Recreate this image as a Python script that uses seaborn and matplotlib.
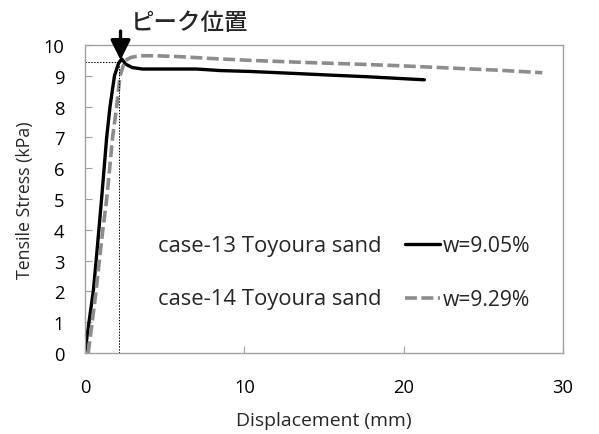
import matplotlib
matplotlib.use("Agg")
import matplotlib.pyplot as plt
import seaborn as sns
import pandas as pd

# ---- data ----
black_x = [0, 0.25, 0.52, 0.7, 0.87, 1.04, 1.2, 1.36, 1.57, 1.85, 2.1, 2.3, 2.55, 2.95, 3.6, 5.0, 7.0, 8.5, 10.4, 13.0, 15.5, 17.7, 19.5, 21.3]
black_y = [0.05, 1, 2, 3, 4, 5, 6, 7, 8, 9, 9.4, 9.55, 9.38, 9.27, 9.22, 9.22, 9.22, 9.17, 9.14, 9.08, 9.02, 8.97, 8.92, 8.87]
gray_x = [0.2, 0.45, 0.69, 0.9, 1.12, 1.36, 1.55, 1.73, 1.99, 2.2, 2.5, 2.9, 3.5, 4.5, 6, 8, 10.4, 14, 17, 19.6, 23, 26, 28.7]
gray_y = [0, 1, 2, 3, 4, 5, 6, 7, 8, 9, 9.49, 9.6, 9.65, 9.65, 9.62, 9.56, 9.5, 9.43, 9.38, 9.33, 9.25, 9.18, 9.1]
case_labels = ["case-13 Toyoura sand", "case-14 Toyoura sand"]
series_labels = ["w=9.05%", "w=9.29%"]
peak_x = 2.13
peak_y = 9.46
peak_text = "ピーク位置"
x_ticks = [0, 10, 20, 30]
y_ticks = list(range(0, 11))

W, H = 599, 435
sns.set_theme(style="white")
LATIN = 'Open Sans'
plt.rcParams['font.family'] = [LATIN, 'Noto Sans CJK JP', 'DejaVu Sans']

df1 = pd.DataFrame({"x": black_x, "y": black_y})
df2 = pd.DataFrame({"x": gray_x, "y": gray_y})

fig = plt.figure(figsize=(W / 100, H / 100), dpi=100)
ax = fig.add_axes([85 / W, 1 - 354 / H, (563 - 85) / W, (354 - 46) / H])
r = fig.canvas.get_renderer()


def fit_size(s, target_px, **kw):
    t = fig.text(0, 0, s, fontsize=12, **kw)
    w = t.get_window_extent(r).width
    t.remove()
    return 12 * target_px / w


sns.lineplot(data=df1, x="x", y="y", ax=ax, sort=False, color="black",
             lw=2.4, label=series_labels[0])
sns.lineplot(data=df2, x="x", y="y", ax=ax, sort=False, color="#8c8c8c",
             lw=2.6, label=series_labels[1])
ax.lines[1].set_dashes((3.3, 1.25))

# peak guide lines
ax.plot([peak_x, peak_x], [0, peak_y], color="black", lw=0.7, ls=(0, (1.5, 1.5)))
ax.plot([0, peak_x], [peak_y, peak_y], color="black", lw=0.7, ls=(0, (1.5, 1.5)))

tick_fs = fit_size("10", 21)
ax.set_xlim(0, 30)
ax.set_ylim(0, 10)
ax.set_xticks(x_ticks)
ax.set_yticks(y_ticks)
ax.tick_params(direction="in", length=5, width=0.8, color="#a0a0a0",
               labelsize=tick_fs, labelcolor="black", left=True, bottom=True)
ax.tick_params(axis="x", pad=18)
ax.tick_params(axis="y", pad=15)
for s in ax.spines.values():
    s.set_color("#a0a0a0")
    s.set_linewidth(1.0)

ax.set_xlabel("Displacement (mm)", fontsize=fit_size("Displacement (mm)", 175), labelpad=11)
ax.set_ylabel("Tensile Stress (kPa)", fontsize=fit_size("Tensile Stress (kPa)", 157), labelpad=7)

# annotation arrow and text
ax.annotate("", xy=(peak_x + 0.1, peak_y + 0.05), xycoords="data",
            xytext=(0, 29), textcoords="offset pixels",
            arrowprops=dict(arrowstyle="-|>,head_length=1.0,head_width=0.5",
                            color="black", lw=2.4, shrinkA=0, shrinkB=0))
cjk = ['Noto Sans CJK JP', 'DejaVu Sans']
fig.text(131 / W, 1 - 23 / H, peak_text,
         fontsize=fit_size(peak_text, 117, family=cjk, weight="medium"),
         family=cjk, weight="medium", va="center", ha="left")

# case labels
case_fs = fit_size(case_labels[0], 222)
for lab, yp in zip(case_labels, [252, 305]):
    fig.text(158 / W, 1 - yp / H, lab, fontsize=case_fs, va="baseline", ha="left")

leg_fs = fit_size(series_labels[0], 88)
tmp = fig.text(0, 0, series_labels[0], fontsize=leg_fs)
th = tmp.get_window_extent(r).height
tmp.remove()
fs_px = leg_fs * 100 / 72
labelspacing = (54 - th) / fs_px
leg = ax.legend(loc="center left", bbox_to_anchor=(405 / W, 1 - 274 / H),
                bbox_transform=fig.transFigure, frameon=False, fontsize=leg_fs,
                handlelength=35 / fs_px, handletextpad=3 / fs_px,
                labelspacing=labelspacing, borderpad=0, borderaxespad=0)

fig.savefig("out.png", dpi=100)
